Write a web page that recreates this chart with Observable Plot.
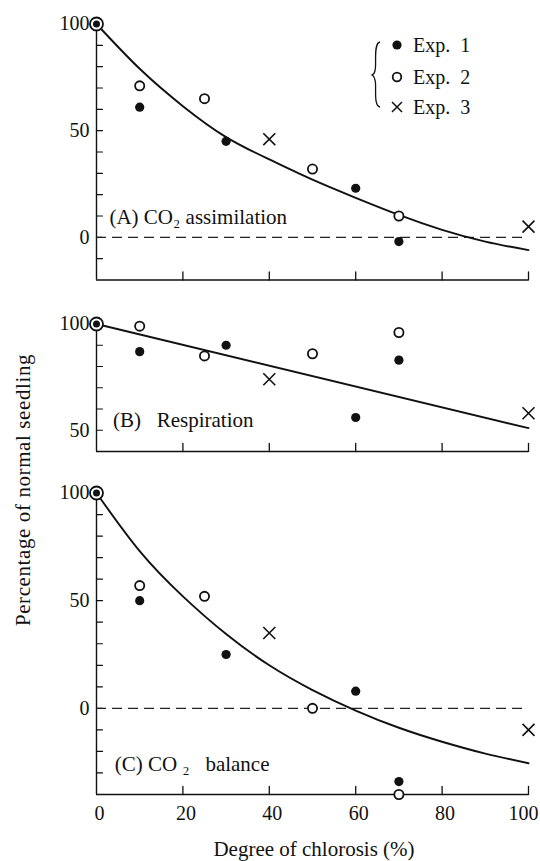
<!DOCTYPE html>
<html><head><meta charset="utf-8">
<script src="https://cdn.jsdelivr.net/npm/d3@7"></script>
<script src="https://cdn.jsdelivr.net/npm/@observablehq/plot@0.6"></script>
<style>
body{margin:0;background:#fff;}
#wrap{position:relative;width:540px;height:861px;overflow:hidden;font-family:"Liberation Serif","DejaVu Serif",serif;color:#111;background:#fff;}
#wrap svg{display:block;}
#wrap svg text{white-space:pre;}
.abs{position:absolute;white-space:pre;}
</style></head>
<body><div id="wrap"></div>
<script>
// ---------- data ----------
const xTicks = [0, 20, 40, 60, 80, 100];
const normalX = [0], normalY = [100];
const legendLabels = ["Exp.  1", "Exp.  2", "Exp.  3"];
const yTitle = "Percentage of normal seedling";
const xTitle = "Degree of chlorosis (%)";

// (A) CO2 assimilation
const aLabel = "(A) CO\u2082 assimilation";
const aExp1X = [10, 30, 60, 70], aExp1Y = [61, 45, 23, -2];
const aExp2X = [10, 25, 50, 70], aExp2Y = [71, 65, 32, 10];
const aExp3X = [40, 100], aExp3Y = [46, 5];
const aFitX = [0, 10, 20, 30, 40, 50, 60, 70, 80, 90, 100];
const aFitY = [100, 79, 61.5, 47, 36.5, 27, 18.5, 10.5, 3.5, -2, -6];
const aYTicks = [-10, 0, 10, 20, 30, 40, 50, 60, 70, 80, 90];
const aYLabels = [0, 50, 100];

// (B) Respiration
const bLabel = "(B)   Respiration";
const bExp1X = [10, 30, 60, 70], bExp1Y = [87, 90, 56, 83];
const bExp2X = [10, 25, 50, 70], bExp2Y = [99, 85, 86, 96];
const bExp3X = [40, 100], bExp3Y = [74, 58];
const bFitX = [0, 100];
const bFitY = [100, 51];
const bYTicks = [50, 60, 70, 80, 90];
const bYLabels = [50, 100];

// (C) CO2 balance
const cLabel = "(C) CO \u2082   balance";
const cExp1X = [10, 30, 60, 70], cExp1Y = [50, 25, 8, -34];
const cExp2X = [10, 25, 50, 70], cExp2Y = [57, 52, 0, -40];
const cExp3X = [40, 100], cExp3Y = [35, -10];
const cFitX = [0, 10, 20, 30, 40, 50, 60, 70, 80, 90, 100];
const cFitY = [100, 73, 52, 34.5, 20, 8.5, -1, -9, -15.5, -21, -25.5];
const cYTicks = [-30, -20, -10, 0, 10, 20, 30, 40, 50, 60, 70, 80, 90];
const cYLabels = [0, 50, 100];

// ---------- helpers ----------
const pts = (xs, ys) => xs.map((x, i) => ({x, y: ys[i]}));
const tickShape = {draw(ctx, l) { ctx.moveTo(0, 0); ctx.lineTo(0, -l); }};
const FS = 20;
const FONT = '"Liberation Serif","DejaVu Serif",serif';

function panel(o) {
  const marks = [
    Plot.ruleX([0], {stroke: "#111", strokeWidth: 1.4}),
    Plot.ruleY([o.yDomain[0]], {stroke: "#111", strokeWidth: 1.4}),
    Plot.vector(o.yTicks, {y: d => d, frameAnchor: "left", length: 6, rotate: 90, anchor: "start", shape: tickShape, stroke: "#111", strokeWidth: 1.2}),
    Plot.vector(xTicks.slice(1), {x: d => d, frameAnchor: "bottom", length: 8, rotate: 0, anchor: "start", shape: tickShape, stroke: "#111", strokeWidth: 1.3}),
    Plot.text(o.yLabels, {y: d => d, frameAnchor: "left", lineAnchor: "middle", dx: -7, textAnchor: "end", text: d => String(d), fontSize: FS, fill: "#111"})
  ];
  if (o.zero) marks.push(Plot.ruleY([0], {stroke: "#222", strokeWidth: 1.2, strokeDasharray: "10,6"}));
  marks.push(
    Plot.line(pts(o.fitX, o.fitY), {x: "x", y: "y", curve: "natural", stroke: "#111", strokeWidth: 1.9}),
    Plot.text([o.label], {x: o.lx, y: o.ly, textAnchor: "start", fontSize: 21, fill: "#111", style: "letter-spacing:0.3px"}),
    Plot.dot(pts(o.e3x, o.e3y), {x: "x", y: "y", symbol: "times", r: 5.5, stroke: "#111", strokeWidth: 1.6}),
    Plot.dot(pts(o.e2x, o.e2y), {x: "x", y: "y", r: 4.6, fill: "#fff", stroke: "#111", strokeWidth: 1.8}),
    Plot.dot(pts(o.e1x, o.e1y), {x: "x", y: "y", r: 4.6, fill: "#111", stroke: "none"}),
    Plot.dot(pts(normalX, normalY), {x: "x", y: "y", r: 6.5, fill: "#fff", stroke: "#111", strokeWidth: 1.8}),
    Plot.dot(pts(normalX, normalY), {x: "x", y: "y", r: 3.5, fill: "#111", stroke: "none"})
  );
  if (o.xLabels) {
    marks.push(Plot.text(xTicks.slice(0, -1), {x: d => d, frameAnchor: "bottom", lineAnchor: "middle", dy: 19, dx: 3, text: d => String(d), fontSize: FS, fill: "#111"}));
    marks.push(Plot.text(xTicks.slice(-1), {x: d => d, frameAnchor: "bottom", lineAnchor: "middle", dy: 19, dx: -5, text: d => String(d), fontSize: FS, fill: "#111"}));
  }
  return Plot.plot({
    width: 540, height: o.height,
    marginLeft: 96, marginRight: 12, marginTop: o.mt, marginBottom: o.mb,
    x: {domain: [0, 100], axis: null},
    y: {domain: o.yDomain, axis: null},
    style: {fontFamily: FONT, fontSize: FS + "px", background: "#fff", overflow: "visible"},
    marks
  });
}

const wrap = document.getElementById("wrap");
wrap.append(panel({height: 290, mt: 23.5, mb: 10.5, yDomain: [-20, 100], yTicks: aYTicks, yLabels: aYLabels,
  e1x: aExp1X, e1y: aExp1Y, e2x: aExp2X, e2y: aExp2Y, e3x: aExp3X, e3y: aExp3Y, fitX: aFitX, fitY: aFitY,
  zero: true, label: aLabel, lx: 3, ly: 9.4}));
wrap.append(panel({height: 170, mt: 33.5, mb: 9, yDomain: [40, 100], yTicks: bYTicks, yLabels: bYLabels,
  e1x: bExp1X, e1y: bExp1Y, e2x: bExp2X, e2y: bExp2Y, e3x: bExp3X, e3y: bExp3Y, fitX: bFitX, fitY: bFitY,
  zero: false, label: bLabel, lx: 3.8, ly: 54.5}));
wrap.append(panel({height: 401, mt: 32.5, mb: 67, yDomain: [-40, 100], yTicks: cYTicks, yLabels: cYLabels,
  e1x: cExp1X, e1y: cExp1Y, e2x: cExp2X, e2y: cExp2Y, e3x: cExp3X, e3y: cExp3Y, fitX: cFitX, fitY: cFitY,
  zero: true, label: cLabel, lx: 4.2, ly: -26, xLabels: true}));

// axis titles
const yt = document.createElement("div");
yt.className = "abs"; yt.textContent = yTitle;
Object.assign(yt.style, {left: "23px", top: "490px", fontSize: "21px", letterSpacing: "0.6px", lineHeight: "1", transform: "translate(-50%,-50%) rotate(-90deg)"});
wrap.append(yt);
const xt = document.createElement("div");
xt.className = "abs"; xt.textContent = xTitle;
Object.assign(xt.style, {left: "314px", top: "849px", fontSize: "21px", lineHeight: "1", transform: "translate(-50%,-50%)"});
wrap.append(xt);

// legend
const NS = "http://www.w3.org/2000/svg";
const lg = document.createElementNS(NS, "svg");
lg.setAttribute("width", 140); lg.setAttribute("height", 100);
Object.assign(lg.style, {position: "absolute", left: "360px", top: "25px", overflow: "visible"});
const rowsY = [20, 52, 82];
const brace = document.createElementNS(NS, "path");
brace.setAttribute("d", "M20,17 C14,18 16,34 15.5,42 C15,48 14,49 12,50 C14,51 15,53 15.5,58 C16,66 14,81 20,82");
brace.setAttribute("fill", "none"); brace.setAttribute("stroke", "#111"); brace.setAttribute("stroke-width", 1.3);
lg.append(brace);
legendLabels.forEach((lab, i) => {
  const y = rowsY[i], x = 37;
  if (i === 0) { const c = document.createElementNS(NS, "circle"); c.setAttribute("cx", x); c.setAttribute("cy", y); c.setAttribute("r", 4.6); c.setAttribute("fill", "#111"); lg.append(c); }
  else if (i === 1) { const c = document.createElementNS(NS, "circle"); c.setAttribute("cx", x); c.setAttribute("cy", y); c.setAttribute("r", 4.3); c.setAttribute("fill", "#fff"); c.setAttribute("stroke", "#111"); c.setAttribute("stroke-width", 1.8); lg.append(c); }
  else { const p = document.createElementNS(NS, "path"); p.setAttribute("d", `M${x-5},${y-5}L${x+5},${y+5}M${x-5},${y+5}L${x+5},${y-5}`); p.setAttribute("stroke", "#111"); p.setAttribute("stroke-width", 1.5); lg.append(p); }
  const t = document.createElementNS(NS, "text");
  t.setAttribute("x", 53); t.setAttribute("y", y); t.setAttribute("dy", "0.35em");
  t.setAttribute("font-size", 20); t.setAttribute("fill", "#111");
  t.setAttribute("font-family", FONT);
  t.style.whiteSpace = "pre";
  t.textContent = lab;
  lg.append(t);
});
wrap.append(lg);
</script>
</body></html>
